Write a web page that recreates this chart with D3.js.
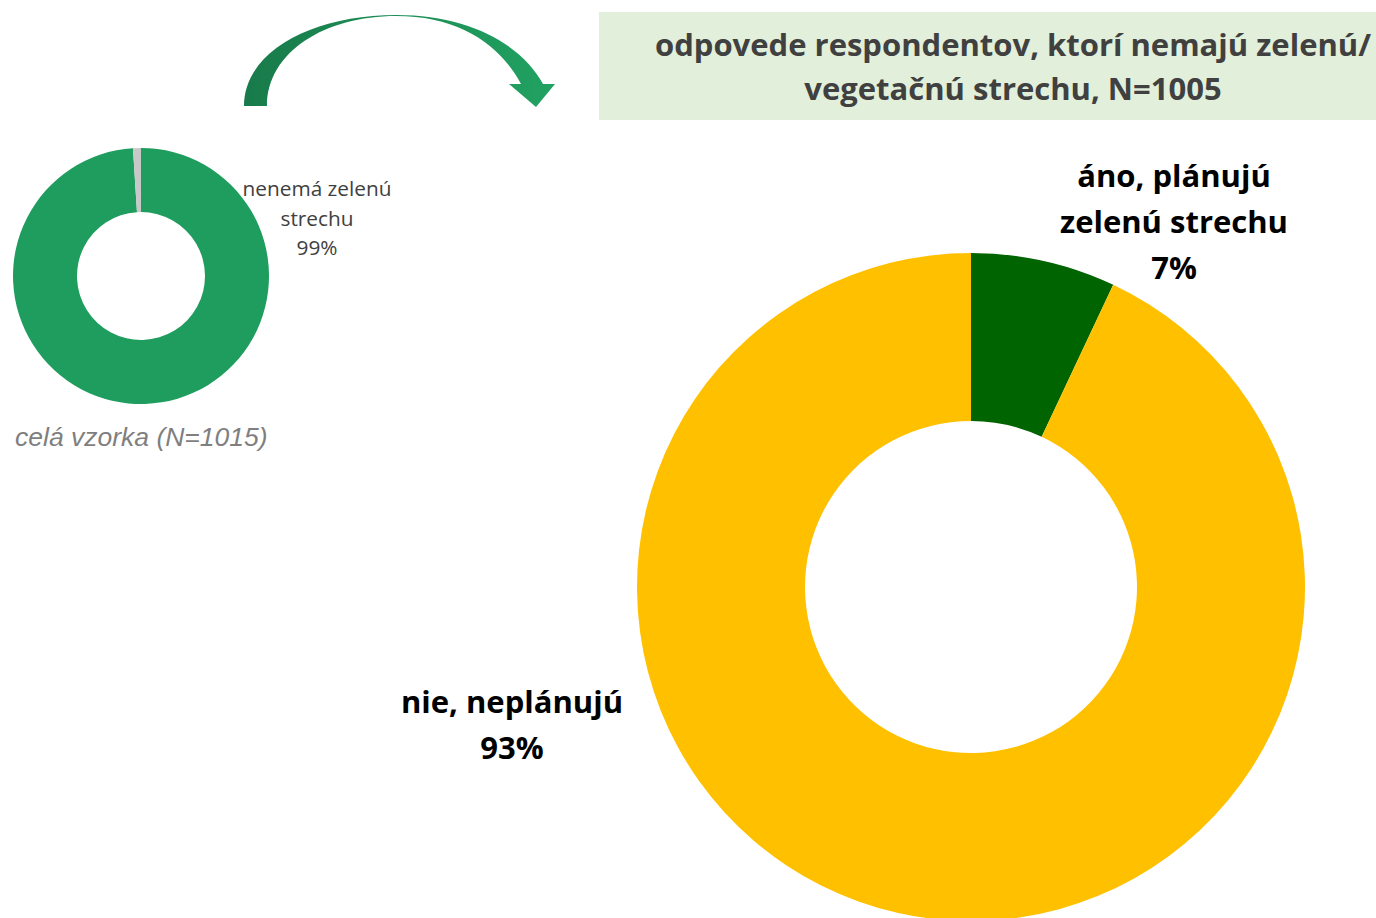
<!DOCTYPE html>
<html>
<head>
<meta charset="utf-8">
<script src="https://cdn.jsdelivr.net/npm/d3@7"></script>
<style>
  body { margin: 0; background: #fff; }
  svg { display: block; }
</style>
</head>
<body>
<div id="chart"></div>
<script>
// whole sample (small donut)
var sampleLabels = ['nenemá zelenú strechu', 'má zelenú strechu']
var sampleValues = [99, 1]
var sampleColors = ['#1f9d5f', '#c8c8c8']

// respondents without green roof (big donut)
var planLabels = ['áno, plánujú zelenú strechu', 'nie, neplánujú']
var planValues = [7, 93]
var planColors = ['#006400', '#ffc000']

var width = 1376
var height = 918

var svg = d3
  .select('#chart')
  .append('svg')
  .attr('width', width)
  .attr('height', height)

var pie = d3.pie().sort(null).value(d => d)

// small donut
var small = svg.append('g').attr('transform', 'translate(141,276)')
var smallArc = d3.arc().innerRadius(64).outerRadius(128)

small
  .selectAll('path')
  .data(pie(sampleValues))
  .enter()
  .append('path')
  .attr('d', smallArc)
  .attr('fill', (d, i) => sampleColors[i])

var smallLabel = svg
  .append('text')
  .attr('x', 317)
  .attr('y', 196)
  .attr('text-anchor', 'middle')
  .style('font-family', 'Open Sans, sans-serif')
  .style('font-size', '20.8px')
  .attr('fill', '#404040')

;['nenemá zelenú', 'strechu', sampleValues[0] + '%'].forEach((t, i) => {
  smallLabel.append('tspan').attr('x', 317).attr('dy', i === 0 ? 0 : 29.5).text(t)
})

svg
  .append('text')
  .attr('x', 15)
  .attr('y', 446)
  .style('font-family', 'Liberation Sans, Arial, sans-serif')
  .style('font-style', 'italic')
  .style('font-size', '26.5px')
  .attr('fill', '#7f7f7f')
  .text('celá vzorka (N=1015)')

// curved arrow
var grad = svg
  .append('defs')
  .append('linearGradient')
  .attr('id', 'arrowGrad')
  .attr('x1', '0%')
  .attr('x2', '100%')
grad.append('stop').attr('offset', '0%').attr('stop-color', '#187a4a')
grad.append('stop').attr('offset', '100%').attr('stop-color', '#21a262')

var arrow = d3.path()
arrow.moveTo(244, 106)
arrow.bezierCurveTo(244, 50, 315, 15, 396, 15)
arrow.bezierCurveTo(470, 15, 522, 45, 543, 84)
arrow.lineTo(555, 84)
arrow.lineTo(536, 107)
arrow.lineTo(509, 84)
arrow.lineTo(521, 84)
arrow.bezierCurveTo(500, 45, 460, 16, 396, 16)
arrow.bezierCurveTo(325, 16, 267, 52, 267, 106)
arrow.closePath()

svg
  .append('path')
  .attr('d', arrow.toString())
  .attr('fill', 'url(#arrowGrad)')

// title box
svg
  .append('rect')
  .attr('x', 599)
  .attr('y', 12)
  .attr('width', 777)
  .attr('height', 108)
  .attr('fill', '#e2efda')

var title = svg
  .append('text')
  .attr('text-anchor', 'middle')
  .attr('y', 56)
  .style('font-family', 'Open Sans, sans-serif')
  .style('font-weight', 'bold')
  .style('font-size', '31px')
  .attr('fill', '#404040')

;['odpovede respondentov, ktorí nemajú zelenú/', 'vegetačnú strechu, N=1005'].forEach((t, i) => {
  title.append('tspan').attr('x', 1013).attr('dy', i === 0 ? 0 : 44).text(t)
})

// big donut
var big = svg.append('g').attr('transform', 'translate(971,587)')
var bigArc = d3.arc().innerRadius(166).outerRadius(334)

big
  .selectAll('path')
  .data(pie(planValues))
  .enter()
  .append('path')
  .attr('d', bigArc)
  .attr('fill', (d, i) => planColors[i])

var labelLines = [
  { x: 1174, y: 187, lines: ['áno, plánujú', 'zelenú strechu', planValues[0] + '%'] },
  { x: 512, y: 713, lines: ['nie, neplánujú', planValues[1] + '%'] },
]

labelLines.forEach(l => {
  var t = svg
    .append('text')
    .attr('text-anchor', 'middle')
    .attr('y', l.y)
    .style('font-family', 'Open Sans, sans-serif')
    .style('font-weight', 'bold')
    .style('font-size', '31px')
    .attr('fill', '#000')
  l.lines.forEach((s, i) => {
    t.append('tspan').attr('x', l.x).attr('dy', i === 0 ? 0 : 46).text(s)
  })
})
</script>
</body>
</html>
